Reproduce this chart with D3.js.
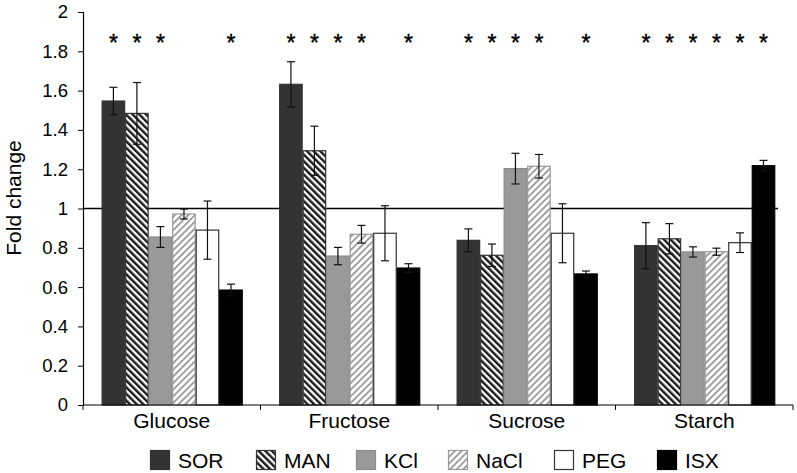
<!DOCTYPE html>
<html>
<head>
<meta charset="utf-8">
<script src="https://cdn.jsdelivr.net/npm/d3@7"></script>
<style>
  body { margin: 0; background: #fff; }
  svg { display: block; font-family: "Liberation Sans", Arial, sans-serif; }
</style>
</head>
<body>
<svg id="chart" width="797" height="473"></svg>
<script>
// ---- data ----
const categories = ["Glucose", "Fructose", "Sucrose", "Starch"];
const series = ["SOR", "MAN", "KCl", "NaCl", "PEG", "ISX"];
const SOR  = [1.547, 1.632, 0.838, 0.811];
const MAN  = [1.484, 1.294, 0.762, 0.846];
const KCl  = [0.855, 0.758, 1.203, 0.779];
const NaCl = [0.972, 0.869, 1.215, 0.780];
const PEG  = [0.890, 0.874, 0.874, 0.826];
const ISX  = [0.585, 0.697, 0.667, 1.218];
const SOR_err  = [0.07, 0.115, 0.058, 0.117];
const MAN_err  = [0.157, 0.125, 0.057, 0.077];
const KCl_err  = [0.053, 0.044, 0.078, 0.026];
const NaCl_err = [0.025, 0.045, 0.06, 0.018];
const PEG_err  = [0.148, 0.14, 0.15, 0.05];
const ISX_err  = [0.03, 0.022, 0.015, 0.027];
// significance asterisks (1 = marked)
const SOR_sig  = [1, 1, 1, 1];
const MAN_sig  = [1, 1, 1, 1];
const KCl_sig  = [1, 1, 1, 1];
const NaCl_sig = [0, 1, 1, 1];
const PEG_sig  = [0, 0, 0, 1];
const ISX_sig  = [1, 1, 1, 1];
const yTicks = [0, 0.2, 0.4, 0.6, 0.8, 1, 1.2, 1.4, 1.6, 1.8, 2];
const yTickLabels = ["0", "0.2", "0.4", "0.6", "0.8", "1", "1.2", "1.4", "1.6", "1.8", "2"];
const yTitle = "Fold change";
const refValue = 1;

const values = { SOR, MAN, KCl, NaCl, PEG, ISX };
const errors = { SOR: SOR_err, MAN: MAN_err, KCl: KCl_err, NaCl: NaCl_err, PEG: PEG_err, ISX: ISX_err };
const sig = { SOR: SOR_sig, MAN: MAN_sig, KCl: KCl_sig, NaCl: NaCl_sig, PEG: PEG_sig, ISX: ISX_sig };

// ---- styles ----
const styles = {
  SOR:  { fill: "#333333", stroke: "#333333" },
  MAN:  { fill: "url(#pMAN)", stroke: "#333333" },
  KCl:  { fill: "#999999", stroke: "#8a8a8a" },
  NaCl: { fill: "url(#pNaCl)", stroke: "#999999" },
  PEG:  { fill: "#ffffff", stroke: "#333333" },
  ISX:  { fill: "#000000", stroke: "#000000" }
};

const svg = d3.select("#chart");
const defs = svg.append("defs");
const p1 = defs.append("pattern").attr("id", "pMAN").attr("patternUnits", "userSpaceOnUse")
  .attr("width", 4.7).attr("height", 10).attr("patternTransform", "rotate(-45)");
p1.append("rect").attr("width", 4.7).attr("height", 10).attr("fill", "#fff");
p1.append("rect").attr("width", 2.4).attr("height", 10).attr("fill", "#1a1a1a");
const p2 = defs.append("pattern").attr("id", "pNaCl").attr("patternUnits", "userSpaceOnUse")
  .attr("width", 4.7).attr("height", 10).attr("patternTransform", "rotate(45)");
p2.append("rect").attr("width", 4.7).attr("height", 10).attr("fill", "#fff");
p2.append("rect").attr("width", 1.8).attr("height", 10).attr("fill", "#9a9a9a");

const plotLeft = 83, plotRight = 793, plotTop = 12, plotBottom = 405;
const y = d3.scaleLinear().domain([0, 2]).range([plotBottom, plotTop]);
const x0 = d3.scaleBand().domain(categories).range([plotLeft, plotRight]).padding(0);
const bw = x0.bandwidth();
const x1 = d3.scaleBand().domain(series).range([bw * 0.105, bw * 0.9]).padding(0);

// reference line (behind bars)
svg.append("line")
  .attr("x1", plotLeft).attr("x2", 778)
  .attr("y1", y(refValue)).attr("y2", y(refValue))
  .attr("stroke", "#000").attr("stroke-width", 1.6);

// bars
const groups = svg.selectAll("g.cat").data(categories).join("g")
  .attr("class", "cat")
  .attr("transform", d => `translate(${x0(d)},0)`);

series.forEach(s => {
  groups.append("rect")
    .attr("x", (d, i) => x1(s) + 0.5)
    .attr("y", (d, i) => y(values[s][i]))
    .attr("width", x1.bandwidth() - 1)
    .attr("height", (d, i) => y(0) - y(values[s][i]))
    .attr("fill", styles[s].fill)
    .attr("stroke", styles[s].stroke)
    .attr("stroke-width", 1.2);
});

// error bars
series.forEach(s => {
  groups.each(function(d, i) {
    const g = d3.select(this);
    const cx = x1(s) + x1.bandwidth() / 2;
    const v = values[s][i], e = errors[s][i];
    const col = "#111";
    g.append("line").attr("x1", cx).attr("x2", cx).attr("y1", y(v + e)).attr("y2", y(v - e))
      .attr("stroke", col).attr("stroke-width", 1.2);
    [v + e, v - e].forEach(t => {
      g.append("line").attr("x1", cx - 4).attr("x2", cx + 4).attr("y1", y(t)).attr("y2", y(t))
        .attr("stroke", col).attr("stroke-width", 1.2);
    });
    if (sig[s][i]) {
      g.append("text").attr("x", cx).attr("y", 51)
        .attr("text-anchor", "middle").attr("font-size", 23).attr("fill", "#000")
        .attr("stroke", "#000").attr("stroke-width", 0.4)
        .text("*");
    }
  });
});

// y axis
const yAxis = d3.axisLeft(y).tickValues(yTicks)
  .tickFormat((d, i) => yTickLabels[i]).tickSizeOuter(0).tickSize(5).tickPadding(10);
const ya = svg.append("g").attr("transform", `translate(${plotLeft},0)`).call(yAxis);
ya.select(".domain").attr("stroke", "#000").attr("stroke-width", 1.2);
ya.selectAll(".tick line").attr("stroke", "#000");
ya.selectAll(".tick text").attr("font-size", 18.5).attr("fill", "#000")
  .attr("font-family", "Liberation Sans, Arial, sans-serif");

// x axis
const xa = svg.append("g").attr("transform", `translate(0,${plotBottom})`);
xa.append("line").attr("x1", plotLeft).attr("x2", plotRight).attr("y1", 0).attr("y2", 0)
  .attr("stroke", "#000").attr("stroke-width", 1.2);
const bounds = categories.map(c => x0(c)).concat([plotRight]);
xa.selectAll("line.tk").data(bounds).join("line").attr("class", "tk")
  .attr("x1", d => d).attr("x2", d => d).attr("y1", 0).attr("y2", 5)
  .attr("stroke", "#000");
xa.selectAll("text.cl").data(categories).join("text").attr("class", "cl")
  .attr("x", d => x0(d) + bw / 2).attr("y", 23)
  .attr("text-anchor", "middle").attr("font-size", 21).attr("fill", "#000")
  .text(d => d);

// y title
svg.append("text")
  .attr("transform", "translate(21,198) rotate(-90)")
  .attr("text-anchor", "middle").attr("font-size", 21).attr("fill", "#000")
  .text(yTitle);

// legend
const legendX = [150, 256, 356, 448, 554, 657];
const lg = svg.selectAll("g.lg").data(series).join("g").attr("class", "lg")
  .attr("transform", (d, i) => `translate(${legendX[i]},450)`);
lg.append("rect").attr("x", 0.5).attr("y", 0.5).attr("width", 19).attr("height", 19)
  .attr("fill", d => styles[d].fill).attr("stroke", d => styles[d].stroke).attr("stroke-width", 1.2);
lg.append("text").attr("x", 28).attr("y", 18).attr("font-size", 21).attr("fill", "#000")
  .text(d => d);
</script>
</body>
</html>
